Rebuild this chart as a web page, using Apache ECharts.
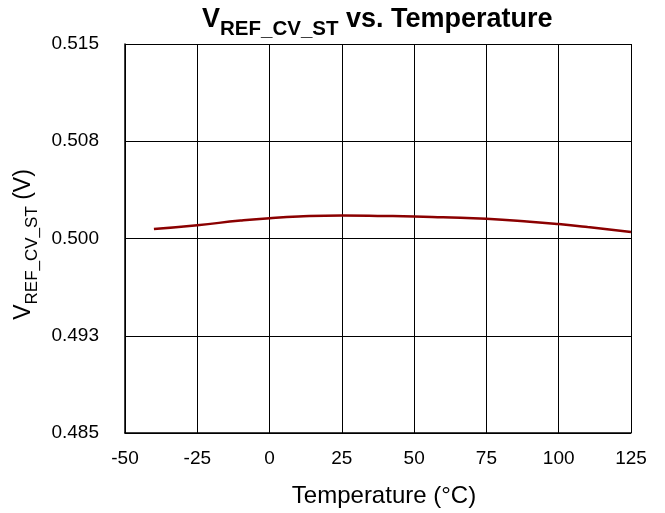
<!DOCTYPE html>
<html>
<head>
<meta charset="utf-8">
<script src="https://cdn.jsdelivr.net/npm/echarts@6/dist/echarts.min.js"></script>
<style>
  html, body { margin: 0; padding: 0; background: #fff; }
  #chart { width: 665px; height: 513px; }
</style>
</head>
<body>
<div id="chart"></div>
<script>
// Temperature sweep (°C) and measured reference voltage (V)
const temperature = [-40, -25, -10, 0, 10, 25, 40, 50, 60, 75, 90, 100, 110, 125];
const vrefCvSt = [0.50073, 0.50103, 0.50138, 0.50157, 0.50170, 0.50178, 0.50174, 0.50170, 0.50163, 0.50152, 0.50130, 0.50111, 0.50088, 0.50050];

// Tick labels printed on the voltage axis (rounded to three decimals)
const yTickLabels = ['0.485', '0.493', '0.500', '0.508', '0.515'];
const xTicks = [-50, -25, 0, 25, 50, 75, 100, 125];

const FONT = 'Liberation Sans, Arial, sans-serif';
const chart = echarts.init(document.getElementById('chart'), null, { renderer: 'canvas' });

chart.setOption({
  backgroundColor: '#ffffff',
  animation: false,
  title: {
    text: '{v|V}{s|REF_CV_ST}{v| vs. Temperature}',
    left: 202,
    top: 6,
    padding: 0,
    textStyle: {
      rich: {
        v: { fontFamily: FONT, fontWeight: 'bold', fontSize: 27, lineHeight: 27, color: '#000', verticalAlign: 'top' },
        s: { fontFamily: FONT, fontWeight: 'bold', fontSize: 20.5, lineHeight: 20.5, color: '#000', verticalAlign: 'top', padding: [12.5, 0, 0, 0] }
      }
    }
  },
  grid: { left: 125, right: 34, top: 44, bottom: 77, containLabel: false },
  xAxis: {
    type: 'value',
    min: xTicks[0],
    max: xTicks[xTicks.length - 1],
    interval: 25,
    name: 'Temperature (°C)',
    nameLocation: 'middle',
    nameGap: 51,
    nameTextStyle: { fontFamily: FONT, fontSize: 24, color: '#000', padding: [0, 0, 0, 12] },
    axisLine: { show: true, lineStyle: { color: '#000', width: 1.5 } },
    axisTick: { show: false },
    axisLabel: { fontFamily: FONT, fontSize: 19, color: '#000', margin: 16 },
    splitLine: { show: true, lineStyle: { color: '#000', width: 1 } }
  },
  yAxis: {
    type: 'value',
    min: 0.485,
    max: 0.515,
    interval: 0.0075,
    name: '{v|V}{s|REF_CV_ST}{v| (V)}',
    nameLocation: 'middle',
    nameGap: 88,
    nameTextStyle: {
      padding: [0, 12, 0, 0],
      rich: {
        v: { fontFamily: FONT, fontSize: 23, lineHeight: 23, color: '#000', verticalAlign: 'top' },
        s: { fontFamily: FONT, fontSize: 17, lineHeight: 17, color: '#000', verticalAlign: 'top', padding: [11, 0, 0, 0] }
      }
    },
    axisLine: { show: true, onZero: false, lineStyle: { color: '#000', width: 1.5 } },
    axisTick: { show: false },
    axisLabel: {
      fontFamily: FONT, fontSize: 19, color: '#000', margin: 26,
      formatter: (v, i) => yTickLabels[i] !== undefined ? yTickLabels[i] : v.toFixed(3)
    },
    splitLine: { show: true, lineStyle: { color: '#000', width: 1 } }
  },
  series: [{
    type: 'line',
    data: temperature.map((t, i) => [t, vrefCvSt[i]]),
    smooth: true,
    showSymbol: false,
    lineStyle: { color: '#8B0000', width: 2.5 },
    itemStyle: { color: '#8B0000' }
  }]
});
</script>
</body>
</html>
